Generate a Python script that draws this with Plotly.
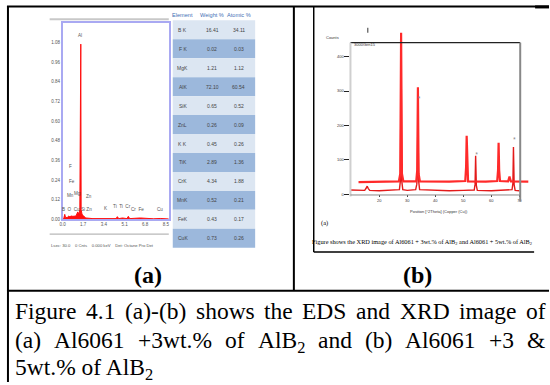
import plotly.graph_objects as go

W, H = 550, 385


def px(x):
    return x / W


def py(y):
    return 1 - y / H


# ---------------- EDS spectrum (panel a) ----------------
eds_kev = [0.0, 0.10, 0.18, 0.25, 0.40, 0.52, 0.60, 0.70, 0.85, 0.93, 1.10, 1.25, 1.35,
           1.42, 1.45, 1.50, 1.53, 1.60, 1.74, 1.90, 2.50, 3.20, 3.31, 3.45, 4.40, 4.51,
           4.62, 4.93, 5.30, 5.41, 5.52, 5.95, 6.40, 7.50, 8.04, 8.74]
eds_cps = [0.0, 0.005, 0.03, 0.01, 0.012, 0.02, 0.015, 0.02, 0.018, 0.02, 0.02, 0.045, 0.03,
           0.06, 1.05, 1.07, 0.06, 0.03, 0.02, 0.008, 0.004, 0.003, 0.006, 0.003, 0.004, 0.016,
           0.004, 0.008, 0.004, 0.018, 0.004, 0.006, 0.008, 0.003, 0.005, 0.002]
eds_ytick_vals = [0.00, 0.12, 0.24, 0.36, 0.48, 0.60, 0.72, 0.84, 0.96, 1.08]
eds_ytick_text = ["0.00", "0.12", "0.24", "0.36", "0.48", "0.60", "0.72", "0.84", "0.96", "1.08"]
eds_xtick_vals = [0.0, 1.7, 3.4, 5.1, 6.8, 8.5]
eds_xtick_text = ["0.0", "1.7", "3.4", "5.1", "6.8", "8.5"]
eds_peak_labels = ["Al", "F", "Fe", "Mn", "Mg", "Zn", "B  O  Cu", "Si Zn", "K",
                   "Ti  Ti  Cr", "Cr  Fe", "Cu"]
eds_peak_kev = [1.47, 0.69, 0.74, 0.65, 1.23, 2.2, 0.70, 2.0, 3.6, 4.9, 6.2, 8.0]
eds_peak_y = [1.12, 0.32, 0.23, 0.145, 0.16, 0.14, 0.06, 0.06, 0.065, 0.08, 0.06, 0.06]

# ---------------- EDS result table ----------------
table_header = ["Element", "Weight %", "Atomic %"]
table_elements = ["B K", "F K", "MgK", "AlK", "SiK", "ZnL", "K K", "TiK", "CrK", "MnK", "FeK", "CuK"]
table_weight = ["16.41", "0.02", "1.21", "72.10", "0.65", "0.26", "0.45", "2.89", "4.34", "0.52", "0.43", "0.73"]
table_atomic = ["34.11", "0.03", "1.12", "60.54", "0.52", "0.09", "0.26", "1.36", "1.88", "0.21", "0.17", "0.26"]

# ---------------- XRD patterns (panel b) ----------------
xrd_lower_2theta = [9.72, 12.0, 14.8, 15.3, 15.7, 16.1, 16.6, 20.0, 25.0, 27.2, 27.55, 27.8, 28.05,
                    28.4, 30.0, 33.0, 33.4, 33.6, 33.8, 34.05, 34.4, 40.0, 45.0, 50.0, 53.9, 54.2,
                    54.4, 54.65, 55.0, 60.0, 65.0, 67.4, 67.7, 67.9, 68.15, 68.5, 70.0]
xrd_lower_counts = [13, 12, 12, 18, 24, 17, 12, 11, 12, 14, 40, 440, 38,
                    14, 12, 14, 30, 60, 250, 40, 14, 12, 11, 12, 13, 30,
                    112, 26, 12, 11, 12, 14, 32, 138, 28, 12, 11]
xrd_upper_2theta = [12.6, 20.0, 27.0, 27.5, 27.8, 28.1, 28.6, 33.2, 33.55, 33.8, 34.05, 34.5, 45.0,
                    50.7, 51.0, 51.2, 51.4, 51.7, 58.0, 62.1, 62.4, 62.6, 62.8, 63.1, 66.0, 66.3,
                    66.5, 66.7, 67.0, 73.2]
xrd_upper_counts = [36, 37, 38, 60, 469, 60, 38, 38, 70, 311, 60, 38, 37,
                    39, 80, 170, 75, 38, 37, 39, 70, 150, 70, 39, 38, 45,
                    52, 45, 38, 37]
xrd_star_2theta = [34.2, 54.75, 68.2]
xrd_star_counts = [279, 115, 158]
xrd_yticks = [0, 100, 200, 300, 400]
xrd_xticks = [20, 30, 40, 50, 60, 70]

# ---------------- captions ----------------
panel_labels = ["(a)", "(b)"]
caption_line1 = ["Figure", "4.1", "(a)-(b)", "shows", "the", "EDS", "and", "XRD", "image", "of"]
caption_line2 = ["(a)", "Al6061", "+3wt.%", "of", "AlB<sub>2</sub>", "and", "(b)", "Al6061", "+3", "&"]
caption_line3 = "5wt.% of AlB<sub>2</sub>"
xrd_caption = "Figure shows the XRD image of Al6061 + 3wt.% of AlB<sub>2</sub> and Al6061 + 5wt.% of AlB<sub>2</sub>"

SANS = "Liberation Sans Narrow, Liberation Sans, Arial"
SERIF = "Liberation Serif, Times New Roman, serif"

fig = go.Figure()

fig.add_trace(go.Scatter(
    x=eds_kev, y=eds_cps, mode="lines", fill="tozeroy",
    line=dict(color="#ff1010", width=1), fillcolor="#ff1010",
    xaxis="x", yaxis="y", showlegend=False, hoverinfo="skip"))

fig.add_trace(go.Scatter(
    x=xrd_lower_2theta, y=xrd_lower_counts, mode="lines",
    line=dict(color="#e31a1a", width=1.4), xaxis="x2", yaxis="y2",
    showlegend=False, hoverinfo="skip"))
fig.add_trace(go.Scatter(
    x=xrd_upper_2theta, y=xrd_upper_counts, mode="lines",
    line=dict(color="#ff2a2a", width=2.2), xaxis="x2", yaxis="y2",
    showlegend=False, hoverinfo="skip"))
fig.add_trace(go.Scatter(
    x=xrd_star_2theta, y=xrd_star_counts, mode="text", text=["*"] * len(xrd_star_2theta),
    textfont=dict(size=5, color="#777"), xaxis="x2", yaxis="y2",
    showlegend=False, hoverinfo="skip", cliponaxis=False))

shapes = []
annotations = []


def hline(x0, x1, y, color="black", width=2):
    shapes.append(dict(type="line", xref="paper", yref="paper", x0=px(x0), x1=px(x1),
                       y0=py(y), y1=py(y), line=dict(color=color, width=width)))


def vline(x, y0, y1, color="black", width=2):
    shapes.append(dict(type="line", xref="paper", yref="paper", x0=px(x), x1=px(x),
                       y0=py(y0), y1=py(y1), line=dict(color=color, width=width)))


def text(x, y, s, size, color="black", family=SANS, xanchor="center", bold=False):
    if bold:
        s = "<b>" + s + "</b>"
    annotations.append(dict(xref="paper", yref="paper", x=px(x), y=py(y), text=s,
                            showarrow=False, xanchor=xanchor, yanchor="middle",
                            font=dict(size=size, color=color, family=family)))


# outer table
hline(4, 550, 6.5, width=2)
hline(536, 550, 7, width=3)
vline(5, 6, 385, width=2)
vline(293, 6, 293, width=2)
hline(4, 550, 293, width=2)

# EDS decorations
hline(47, 167, 19.5, color="#c8c8c8", width=2)
hline(47, 167, 236, color="#b8b8b8", width=1.2)
text(46, 247, "Lsec: 30.0&nbsp;&nbsp;&nbsp;&nbsp;0 Cnts&nbsp;&nbsp;&nbsp;&nbsp;0.000 keV&nbsp;&nbsp;&nbsp;&nbsp;Det: Octane Pro Det",
     4.2, color="#555", xanchor="left")
for lab, kx, ky in zip(eds_peak_labels, eds_peak_kev, eds_peak_y):
    annotations.append(dict(xref="x", yref="y", x=kx, y=ky, text=lab, showarrow=False,
                            font=dict(size=4.6, color="#555", family=SANS)))

# EDS table
row_top, row_h = 20.5, 19.1
col_x = [181, 211, 237.5]
for j, h in enumerate(table_header):
    text(col_x[j], 15, h, 5.6, color="#3f6fb5")
for i in range(len(table_elements)):
    y0 = row_top + i * row_h
    shapes.append(dict(type="rect", xref="paper", yref="paper", x0=px(171), x1=px(254),
                       y0=py(y0 + row_h), y1=py(y0), line=dict(width=0),
                       fillcolor="#dce6f2" if i % 2 == 0 else "#9cb8dc", layer="below"))
    for j, val in enumerate([table_elements[i], table_weight[i], table_atomic[i]]):
        text(col_x[j], y0 + row_h / 2, val, 5, color="#444")

# XRD image border and frame
vline(313, 7, 254, width=1.5)
hline(313, 535, 254, width=1.5)
hline(350, 521, 43, color="#222", width=1.2)
vline(521, 43, 203, color="#888", width=2)
vline(350, 43, 198, color="#cfcfcf", width=2)
hline(350, 521, 196.5, color="#888", width=1)
vline(367.5, 28, 33, color="#333", width=1)
text(332, 38, "Counts", 4, color="#333")
text(352, 45, "3000Gen15", 4, color="#333", xanchor="left")
text(439, 213, "Position [°2Theta] (Copper (Cu))", 4, color="#333")
text(324, 225, "(a)", 6.5, family=SERIF)
text(422, 244, xrd_caption, 6.3, family=SERIF)

# Panel labels
text(146, 277, panel_labels[0], 24, family=SERIF, bold=True)
text(418, 277, panel_labels[1], 24, family=SERIF, bold=True)

# Caption (justified lines approximated per word)
FS = 23.5
l1_x = [10, 81.7, 120.7, 192.3, 261.3, 299.6, 353.9, 397.6, 457.3, 525.0]
l2_x = [10, 49.2, 133.8, 221.9, 254.5, 315.5, 362.8, 403.4, 488.0, 526.1]
for w, x in zip(caption_line1, l1_x):
    text(x, 313, w, FS, family=SERIF, xanchor="left")
for w, x in zip(caption_line2, l2_x):
    dy = 1.5 if "<sub>" in w else 0
    text(x, 343 + dy, w, FS, family=SERIF, xanchor="left")
text(10, 372, caption_line3, FS, family=SERIF, xanchor="left")

fig.update_layout(
    width=W, height=H, margin=dict(l=0, r=0, t=0, b=0),
    paper_bgcolor="white", plot_bgcolor="white", showlegend=False,
    shapes=shapes, annotations=annotations,
    xaxis=dict(domain=[px(60), px(167)], range=[0, 8.74], tickvals=eds_xtick_vals,
               ticktext=eds_xtick_text, ticks="", showgrid=False, zeroline=False,
               showline=True, mirror=True, linecolor="#a9a9f2", linewidth=1.5,
               tickfont=dict(size=4.5, color="#555", family=SANS), anchor="y"),
    yaxis=dict(domain=[py(221), py(23)], range=[0, 1.2], tickvals=eds_ytick_vals,
               ticktext=eds_ytick_text, ticks="", showgrid=False, zeroline=False,
               showline=True, mirror=True, linecolor="#a9a9f2", linewidth=1.5,
               tickfont=dict(size=4.5, color="#555", family=SANS), anchor="x"),
    xaxis2=dict(domain=[px(350), px(530)], range=[9.72, 73.5], tickvals=xrd_xticks,
                ticks="outside", ticklen=2, tickcolor="#444", showgrid=False, zeroline=False,
                showline=False, tickfont=dict(size=4, color="#333", family=SANS), anchor="y2"),
    yaxis2=dict(domain=[py(196), py(29.2)], range=[0, 480], tickvals=xrd_yticks,
                ticks="outside", ticklen=5, tickwidth=1.2, tickcolor="#222", showgrid=False,
                zeroline=False, showline=False,
                tickfont=dict(size=4, color="#333", family=SANS), anchor="x2"),
)

fig.write_html("out.html", config={"displayModeBar": False},
               post_script="document.body.style.margin='0';document.body.style.overflow='hidden';")
